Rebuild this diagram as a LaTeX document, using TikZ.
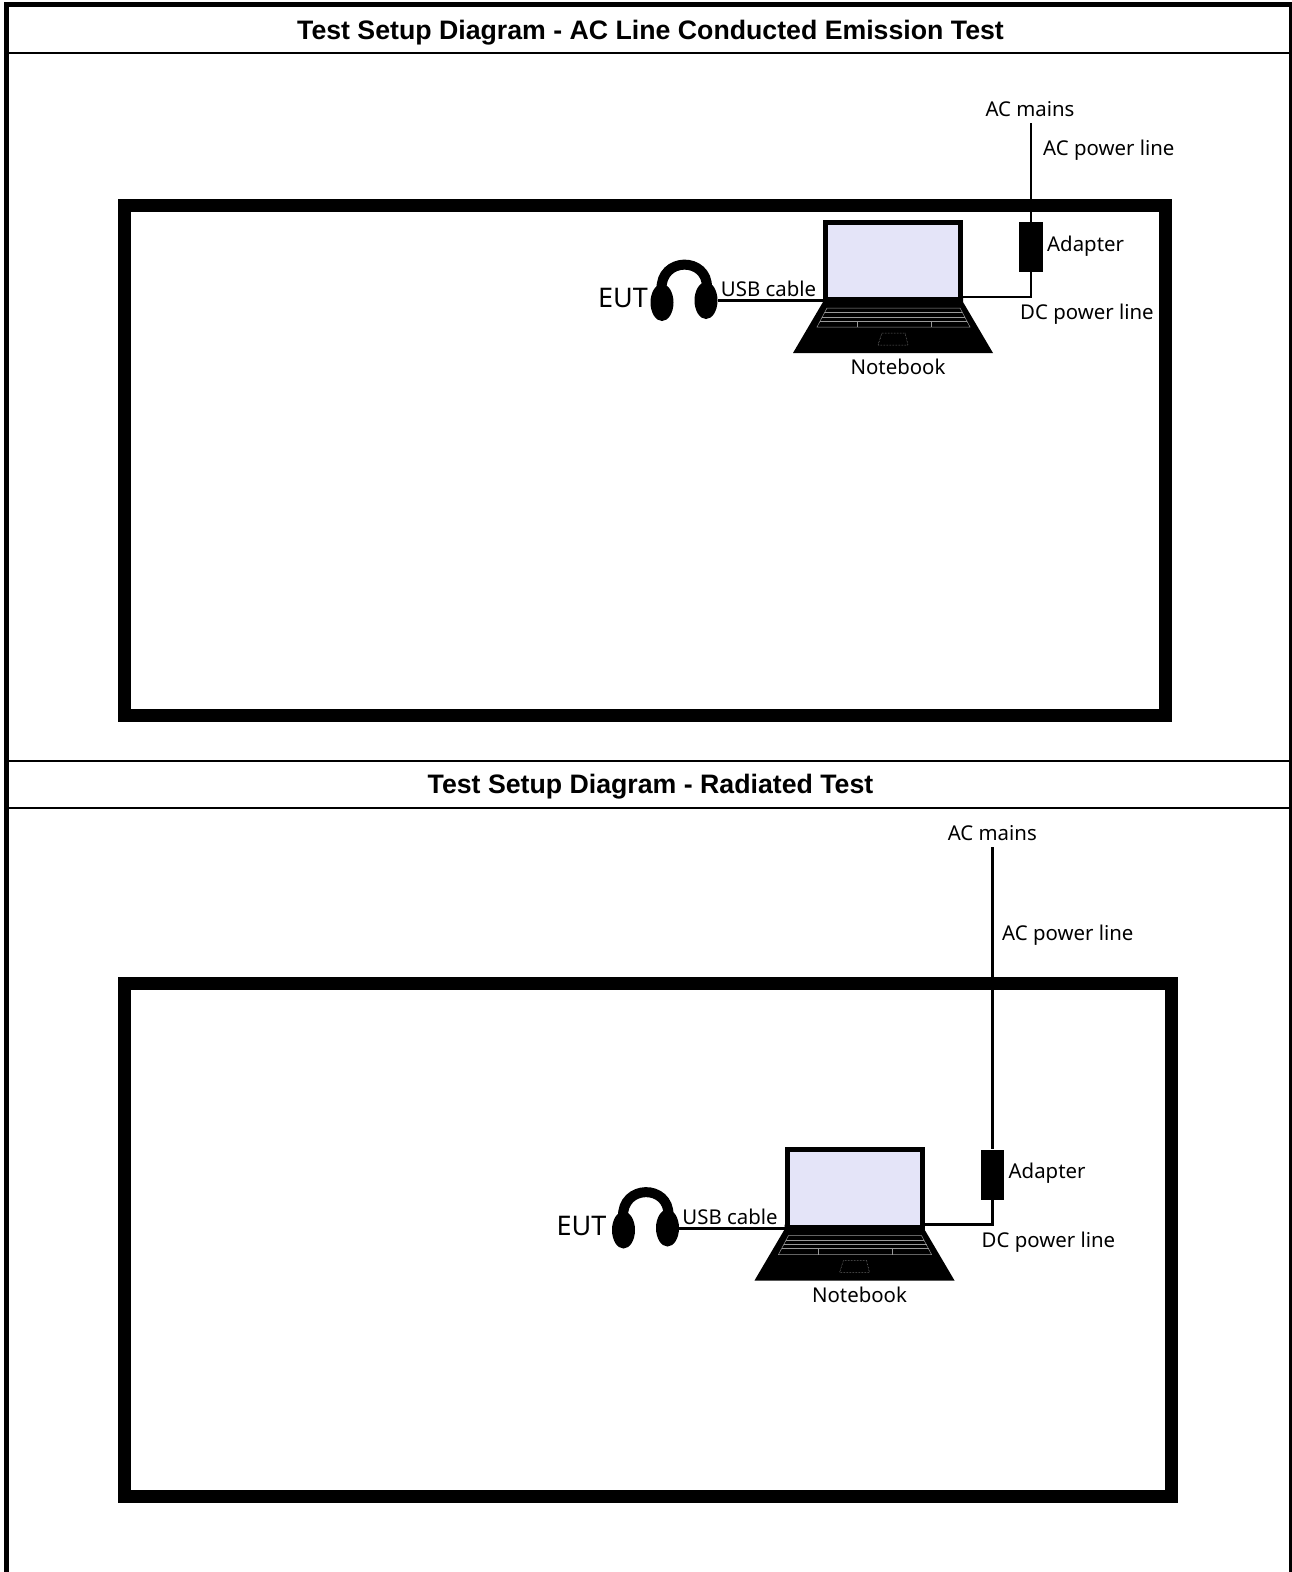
\documentclass[tikz,border=0pt]{standalone}
\usepackage{fontspec}
\setmainfont{Liberation Sans}
\newfontfamily\labelfont{Noto Sans}
\usetikzlibrary{shapes.geometric}
\definecolor{screenblue}{HTML}{E4E4F8}
\tikzset{
    heading/.style={font=\bfseries\fontsize{26.7}{30}\selectfont},
    tag/.style={font=\labelfont\fontsize{20.4}{24}\selectfont, inner sep=0pt},
    wire/.style={line width=2.4pt},
    room/.style={line width=13pt},
    rule/.style={line width=2pt},
    cup/.style={ellipse, fill=black, inner sep=0pt, minimum width=23pt, minimum height=37pt},
    keys/.style={gray!80, line width=0.5pt},
}
\begin{document}
\begin{tikzpicture}[x=1pt, y=-1pt]
    \useasboundingbox (0,0) rectangle (1292,1572);
    % table lines
    \draw[line width=5pt] (6.5,1572) -- (6.5,4.5) -- (1292,4.5);
    \draw[line width=3pt] (1290.5,4.5) -- (1290.5,1572);
    \draw[rule] (9,53) -- (1289,53);
    \draw[rule] (9,760.7) -- (1289,760.7);
    \draw[rule] (9,807.7) -- (1289,807.7);
    \node[heading] (title1) at (650.5,32.5) {Test Setup Diagram - AC Line Conducted Emission Test};
    \node[heading] (title2) at (650.5,787) {Test Setup Diagram - Radiated Test};
    % rooms
    \draw[room] (124.5,205) rectangle (1165.5,715.5);
    \draw[room] (124.5,983) rectangle (1171,1496);
    % mains feed
    \node[tag] (mains1) at (1030,109.5) {AC mains};
    \node[tag, anchor=west] (acline1) at (1043,150.5) {AC power line};
    \coordinate (feed1) at (1031,123);
    \node[tag] (mains2) at (992.3,833.5) {AC mains};
    \node[tag, anchor=west] (acline2) at (1002,935) {AC power line};
    \coordinate (feed2) at (992.5,847);
    % the same bench twice
    \foreach \n/\dx/\dy/\eutx in {1/0/0/598, 2/-38.5/927.5/595} {
    \begin{scope}[shift={(\dx,\dy)}]
        \fill (823,297) -- (963,297) -- (963,302) -- (993,353) -- (793,353) -- (823,302) -- cycle;
        \node[draw, line width=5pt, fill=screenblue, minimum width=135pt, minimum height=77.5pt] (screen\n) at (893,260.75) {};
        \draw[keys] (827,308) -- (960,308) -- (970,327) -- (817,327) -- cycle;
        \draw[keys] (824.5,312.5) -- (962,312.5);
        \draw[keys] (822,317) -- (965,317);
        \draw[keys] (820,321) -- (967,321);
        \draw[keys] (857,321) -- (857,327);
        \draw[keys] (931,321) -- (931,327);
        \draw[keys, densely dotted] (882,333) -- (905,333) -- (908,345) -- (878,345) -- cycle;
        \node[fill=black, inner sep=0pt, minimum width=23.5pt, minimum height=50pt] (adapter\n) at (1031,247) {};
        \node[cup] (cupl\n) at (662,302.5) {};
        \node[cup] (cupr\n) at (706,300.5) {};
        \draw[line width=10pt] (661.5,290) .. controls (660,256.5) and (708,256.5) .. (707,288);
        \coordinate (hinge\n) at (823,300.5);
        \coordinate (dcend\n) at (963,297);
        \draw[line width=3pt] (cupr\n) -- (hinge\n);
        \draw[wire] (adapter\n.south) |- (dcend\n);
        \node[tag, anchor=west] (adapterlabel\n) at (1047,246) {Adapter};
        \node[tag, anchor=west] (dcline\n) at (1020,314.5) {DC power line};
        \node[tag, anchor=west] (usb\n) at (720.7,289) {USB cable};
        \node[tag, anchor=west, font=\labelfont\fontsize{27}{30}\selectfont] (eut\n) at (\eutx,298) {EUT};
        \node[tag] (notebook\n) at (898,367) {Notebook};
    \end{scope}
    }
    \draw[wire] (feed1) -- (adapter1.north);
    \draw[wire] (feed2) -- (adapter2.north);
\end{tikzpicture}
\end{document}
